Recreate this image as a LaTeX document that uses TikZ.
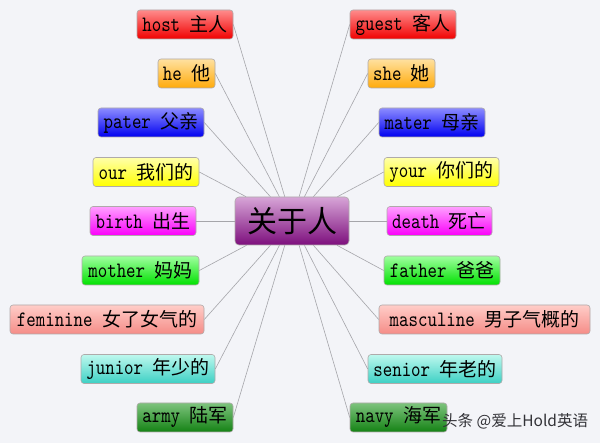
\documentclass[tikz,border=0pt]{standalone}
\usepackage{fontspec}
\newfontfamily\en{lmmono10-regular.otf}[FakeStretch=0.82]
\newfontfamily\zh{Noto Sans CJK SC}
\definecolor{bg}{RGB}{243,244,248}
\definecolor{conncol}{RGB}{165,165,170}
\definecolor{edgecol}{RGB}{175,170,170}
\tikzset{
  leaf/.style={rounded corners=3pt, draw=edgecol, line width=0.6pt, minimum height=29pt,
    inner sep=0pt, font=\fontsize{19}{19}\selectfont, text=black},
  hub/.style={rounded corners=4pt, draw=edgecol, line width=0.6pt, minimum height=48pt,
    minimum width=114pt, inner sep=0pt, font=\zh\fontsize{30}{30}\selectfont,
    top color={rgb,255:red,215;green,165;blue,215}, bottom color={rgb,255:red,125;green,15;blue,125}},
  conn/.style={draw=conncol, line width=0.6pt},
  cred/.style={top color={rgb,255:red,255;green,140;blue,140}, bottom color={rgb,255:red,240;green,0;blue,0}},
  corange/.style={top color={rgb,255:red,255;green,225;blue,160}, bottom color={rgb,255:red,255;green,170;blue,10}},
  cblue/.style={top color={rgb,255:red,140;green,140;blue,255}, bottom color={rgb,255:red,0;green,0;blue,240}},
  cyellow/.style={top color={rgb,255:red,255;green,255;blue,170}, bottom color={rgb,255:red,255;green,255;blue,0}},
  cmag/.style={top color={rgb,255:red,255;green,160;blue,255}, bottom color={rgb,255:red,250;green,0;blue,250}},
  cgreen/.style={top color={rgb,255:red,160;green,255;blue,160}, bottom color={rgb,255:red,0;green,225;blue,0}},
  cpink/.style={top color={rgb,255:red,255;green,205;blue,200}, bottom color={rgb,255:red,245;green,140;blue,135}},
  ccyan/.style={top color={rgb,255:red,190;green,248;blue,238}, bottom color={rgb,255:red,60;green,208;blue,196}},
  cdgreen/.style={top color={rgb,255:red,125;green,195;blue,125}, bottom color={rgb,255:red,20;green,130;blue,20}},
}
\newcommand{\wrd}[2]{{\en\fontsize{22}{22}\selectfont #1\ }{\zh #2}}
\begin{document}
\begin{tikzpicture}[x=1pt,y=-1pt]
\fill[bg] (0,0) rectangle (600,443);
\useasboundingbox (0,0) rectangle (600,443);
\node[hub] (c) at (292,221) {关于人};
% left
\node[leaf,cred,minimum width=96pt] (host) at (185,24.5) {\wrd{host}{主人}};
\node[leaf,corange,minimum width=57pt] (he) at (186.5,73.5) {\wrd{he}{他}};
\node[leaf,cblue,minimum width=106pt] (pater) at (151,122.5) {\wrd{pater}{父亲}};
\node[leaf,cyellow,minimum width=106pt] (our) at (146,172) {\wrd{our}{我们的}};
\node[leaf,cmag,minimum width=106pt] (birth) at (143,221) {\wrd{birth}{出生}};
\node[leaf,cgreen,minimum width=117pt] (mother) at (140.5,270.5) {\wrd{mother}{妈妈}};
\node[leaf,cpink,minimum width=194pt] (feminine) at (107,319.5) {\wrd{feminine}{女了女气的}};
\node[leaf,ccyan,minimum width=134pt] (junior) at (148,369) {\wrd{junior}{年少的}};
\node[leaf,cdgreen,minimum width=96pt] (army) at (185,417.5) {\wrd{army}{陆军}};
% right
\node[leaf,cred,minimum width=106pt] (guest) at (403,24.5) {\wrd{guest}{客人}};
\node[leaf,corange,minimum width=67pt] (she) at (401.5,73.5) {\wrd{she}{她}};
\node[leaf,cblue,minimum width=106pt] (mater) at (432,122.5) {\wrd{mater}{母亲}};
\node[leaf,cyellow,minimum width=115pt] (your) at (441.5,172) {\wrd{your}{你们的}};
\node[leaf,cmag,minimum width=105pt] (death) at (439.5,221) {\wrd{death}{死亡}};
\node[leaf,cgreen,minimum width=116pt] (father) at (442,270.5) {\wrd{father}{爸爸}};
\node[leaf,cpink,minimum width=211pt] (masculine) at (484.5,319.5) {\wrd{masculine}{男子气概的}};
\node[leaf,ccyan,minimum width=134pt] (senior) at (435,369) {\wrd{senior}{年老的}};
\node[leaf,cdgreen,minimum width=97pt] (navy) at (398.5,417.5) {\wrd{navy}{海军}};
% connectors
\foreach \n in {host,he,pater,our,birth,mother,feminine,junior,army}
  \draw[conn] (c) -- (\n.east);
\foreach \n in {guest,she,mater,your,death,father,masculine,senior,navy}
  \draw[conn] (c) -- (\n.west);
% watermark
\node[anchor=west, inner sep=0pt, font=\zh\fontsize{15.5}{15.5}\selectfont, text={rgb,255:red,50;green,50;blue,55}] (wm) at (442,421) {头条 @爱上Hold英语};
\end{tikzpicture}
\end{document}
